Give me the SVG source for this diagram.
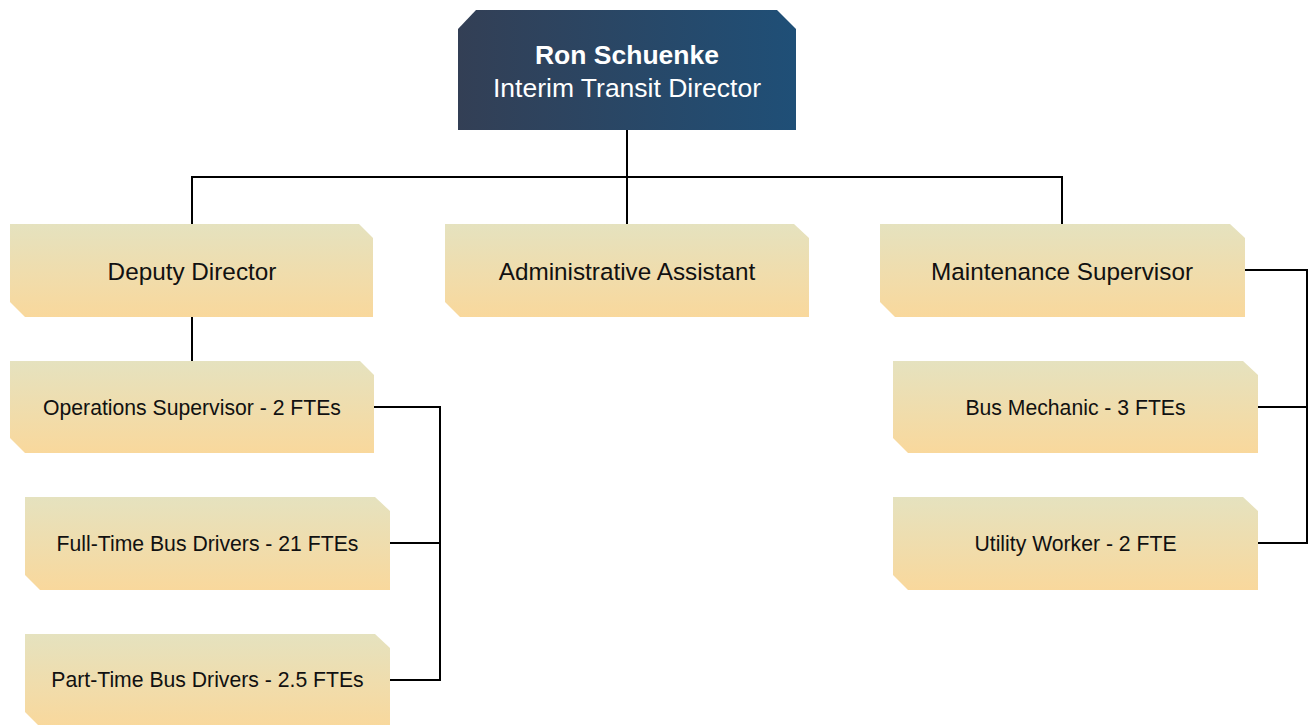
<svg xmlns="http://www.w3.org/2000/svg" width="1310" height="725" viewBox="0 0 1310 725">
  <defs>
    <linearGradient id="headFill" x1="0" y1="0" x2="1" y2="0">
      <stop offset="0" stop-color="#333f55"/>
      <stop offset="1" stop-color="#1f4f77"/>
    </linearGradient>
    <linearGradient id="cardFill" x1="0" y1="0" x2="0" y2="1">
      <stop offset="0" stop-color="#e5e2bf"/>
      <stop offset="1" stop-color="#f9d89c"/>
    </linearGradient>
    <style>
      .card { fill: url(#cardFill); }
      .head { fill: url(#headFill); }
      .wire { fill: none; stroke: #000; stroke-width: 2; }
      .t2 { font-family: "Liberation Sans", Arial, sans-serif; font-size: 24.3px; fill: #111; text-anchor: middle; }
      .t3 { font-family: "Liberation Sans", Arial, sans-serif; font-size: 21.2px; fill: #111; text-anchor: middle; }
      .th { font-family: "Liberation Sans", Arial, sans-serif; font-size: 26.5px; fill: #fff; text-anchor: middle; }
    </style>
  </defs>

  <g id="connectors">
    <path class="wire" d="M627 130 V177 M192 224 V177 H1062 V224 M627 177 V224"/>
    <path class="wire" d="M192 317 V361"/>
    <path class="wire" d="M374 407 H440 V680 H390 M390 543 H440"/>
    <path class="wire" d="M1245 270 H1307 V543 H1258 M1258 407 H1307"/>
  </g>

  <g id="director">
    <path class="head" d="M476 10 H777 L796 29 V130 H458 V29 Z"/>
    <text class="th" x="627" y="64" font-weight="bold">Ron Schuenke</text>
    <text class="th" x="627" y="97">Interim Transit Director</text>
  </g>

  <g id="deputy-director">
    <path class="card" d="M10 224 H359 L373 238 V317 H25 L10 302 Z"/>
    <text class="t2" x="192" y="280">Deputy Director</text>
  </g>

  <g id="administrative-assistant">
    <path class="card" d="M445 224 H794 L809 238 V317 H460 L445 302 Z"/>
    <text class="t2" x="627" y="280">Administrative Assistant</text>
  </g>

  <g id="maintenance-supervisor">
    <path class="card" d="M880 224 H1230 L1245 238 V317 H895 L880 302 Z"/>
    <text class="t2" x="1062" y="280">Maintenance Supervisor</text>
  </g>

  <g id="operations-supervisor">
    <path class="card" d="M10 361 H360 L374 375 V453 H25 L10 438 Z"/>
    <text class="t3" x="192" y="415">Operations Supervisor - 2 FTEs</text>
  </g>

  <g id="full-time-drivers">
    <path class="card" d="M25 497 H375 L390 511 V590 H40 L25 575 Z"/>
    <text class="t3" x="207.5" y="551">Full-Time Bus Drivers - 21 FTEs</text>
  </g>

  <g id="part-time-drivers">
    <path class="card" d="M25 634 H375 L390 648 V727 H40 L25 712 Z"/>
    <text class="t3" x="207.5" y="687">Part-Time Bus Drivers - 2.5 FTEs</text>
  </g>

  <g id="bus-mechanic">
    <path class="card" d="M893 361 H1243 L1258 375 V453 H908 L893 438 Z"/>
    <text class="t3" x="1075.5" y="415">Bus Mechanic - 3 FTEs</text>
  </g>

  <g id="utility-worker">
    <path class="card" d="M893 497 H1243 L1258 511 V590 H908 L893 575 Z"/>
    <text class="t3" x="1075.5" y="551">Utility Worker - 2 FTE</text>
  </g>
</svg>
